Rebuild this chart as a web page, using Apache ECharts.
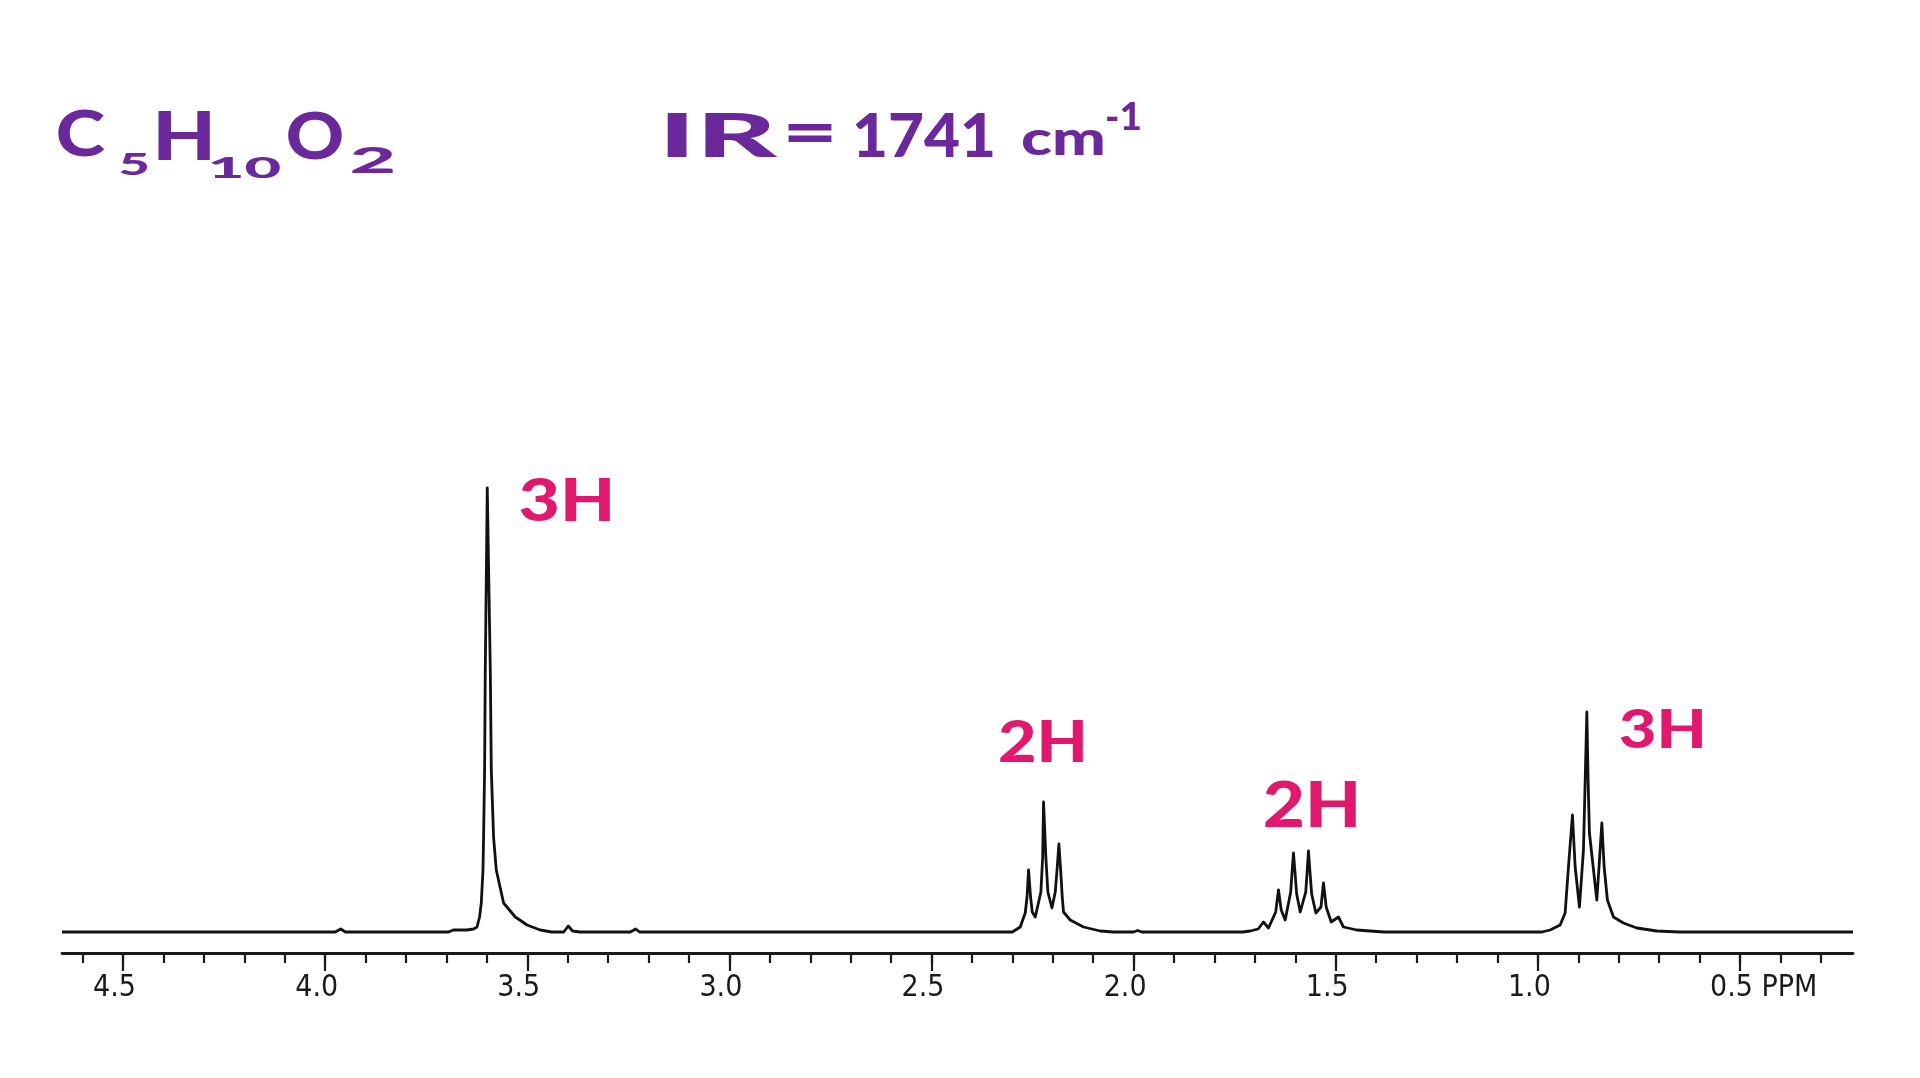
<!DOCTYPE html>
<html>
<head>
<meta charset="utf-8">
<script src="https://cdn.jsdelivr.net/npm/echarts@6/dist/echarts.min.js"></script>
<style>
html,body{margin:0;padding:0;background:#fff;}
#chart{width:1920px;height:1078px;}
</style>
</head>
<body>
<div id="chart"></div>
<script>
// ---- Data (chemical shift in ppm, relative intensity) ----
const ppm = [
  4.651, 3.975, 3.9615, 3.950, 3.695, 3.683, 3.650,
  3.6328, 3.6244, 3.6180, 3.6138, 3.6096, 3.6081, 3.6056, 3.6039, 3.5990,
  3.5915, 3.5890, 3.5834, 3.5767, 3.5586, 3.5297, 3.5222, 3.5007, 3.4679, 3.4400,
  3.410, 3.3986, 3.388, 3.370, 3.245, 3.232, 3.222,
  2.300, 2.2806, 2.2682, 2.2637, 2.2600, 2.2550, 2.2508, 2.2434, 2.2295, 2.2250, 2.2229,
  2.2172, 2.2122, 2.2021, 2.1939, 2.1890, 2.1849, 2.1803, 2.1766, 2.1735, 2.1569, 2.1240, 2.0827, 2.050,
  2.000, 1.990, 1.980,
  1.730, 1.7117, 1.6919, 1.6788, 1.6664, 1.6486, 1.6417, 1.6350, 1.6251, 1.6115, 1.6078, 1.6046,
  1.6009, 1.5967, 1.5880, 1.5743, 1.5706, 1.5675, 1.5638, 1.5596, 1.5492, 1.5366, 1.5304, 1.5237,
  1.5113, 1.4934, 1.4810, 1.4479, 1.4150, 1.380,
  0.990, 0.9697, 0.9450, 0.9326, 0.9244, 0.9145, 0.9078, 0.8972, 0.8873, 0.8831, 0.8789, 0.8757,
  0.8725, 0.8542, 0.8477, 0.8418, 0.8361, 0.8280, 0.8131, 0.7884, 0.7553, 0.7058, 0.650, 0.2205
];
const intensity = [
  0, 0, 3, 0, 0, 2, 2,
  3, 5, 15, 29, 62, 95, 162, 262, 444,
  262, 162, 95, 62, 29, 15, 13, 7, 2, 0,
  0, 6, 1, 0, 0, 3, 0,
  0, 5, 19, 35, 62, 35, 20, 15, 40, 75, 130,
  75, 40, 24, 40, 65, 88, 60, 35, 20, 12, 5, 1, 0,
  0, 1.5, 0,
  0, 1, 3, 10, 4, 20, 42, 22, 12, 40, 62, 79,
  60, 38, 20, 40, 62, 81, 60, 38, 19, 25, 49, 25,
  10, 15, 5, 2, 1, 0,
  0, 2, 7, 19, 65, 117, 65, 25, 82, 150, 220, 150,
  99, 32, 72, 109, 65, 32, 15, 9, 4, 1, 0, 0
];
const minorTicks = [0.3, 0.4, 0.5, 0.6, 0.7, 0.8, 0.9, 1.0, 1.1, 1.2, 1.3, 1.4, 1.5, 1.6, 1.7, 1.8, 1.9,
  2.0, 2.1, 2.2, 2.3, 2.4, 2.5, 2.6, 2.7, 2.8, 2.9, 3.0, 3.1, 3.2, 3.3, 3.4, 3.5, 3.6, 3.7, 3.8, 3.9,
  4.0, 4.1, 4.2, 4.3, 4.4, 4.5, 4.6];
const majorTicks = [0.5, 1.0, 1.5, 2.0, 2.5, 3.0, 3.5, 4.0, 4.5];
const unitLabel = 'PPM';
const peakLabels = ['3H', '2H', '2H', '3H'];
const formulaParts = ['C', '5', 'H', '10', 'O', '2'];
const irParts = ['IR', '=', '1741', 'cm', '-1'];

// ---- helpers for handwritten-style annotation text ----
const mctx = document.createElement('canvas').getContext('2d');
function fitText(text, left, top, w, h, color) {
  const family = 'Lato';
  const weight = 900;
  mctx.font = weight + ' 100px ' + family;
  mctx.textBaseline = 'middle';
  mctx.textAlign = 'left';
  const m = mctx.measureText(text);
  const inkW = m.actualBoundingBoxLeft + m.actualBoundingBoxRight;
  const inkH = m.actualBoundingBoxAscent + m.actualBoundingBoxDescent;
  const k = h / inkH;
  const sx = w / (inkW * k);
  return {
    type: 'text', silent: true,
    x: left + m.actualBoundingBoxLeft * k * sx,
    y: top + m.actualBoundingBoxAscent * k,
    scaleX: sx,
    style: { text: text, fontSize: 100 * k, fontFamily: family, fontWeight: weight,
             fill: color, align: 'left', verticalAlign: 'middle' }
  };
}
const purple = '#6a289b';
const pink = '#e1196e';

const graphics = [
  fitText(formulaParts[0], 58, 110, 47, 47, purple),
  fitText(formulaParts[1], 120, 153, 27, 22, purple),
  fitText(formulaParts[2], 158, 112, 52, 48, purple),
  fitText(formulaParts[3], 211, 157, 69, 21, purple),
  fitText(formulaParts[4], 288, 112, 54, 48, purple),
  fitText(formulaParts[5], 352, 146, 41, 27, purple),
  fitText(irParts[0], 667, 113, 111, 44, purple),
  fitText(irParts[1], 788, 125, 44, 18, purple),
  fitText(irParts[2], 855, 113, 138, 44, purple),
  fitText(irParts[3], 1023, 130, 80, 25, purple),
  fitText(irParts[4], 1107, 103, 33, 27, purple),
  fitText(peakLabels[0], 520, 479, 90, 43, pink),
  fitText(peakLabels[1], 1000, 721, 83, 41, pink),
  fitText(peakLabels[2], 1265, 781, 91, 46, pink),
  fitText(peakLabels[3], 1620, 709, 82, 40, pink)
];

const data = ppm.map((p, i) => [p, intensity[i]]);
const axisColor = '#1a1a1a';
const labelFont = "'DejaVu Sans Condensed', 'Liberation Sans Narrow', sans-serif";
const xMin = 0.2205, xMax = 4.651;

const chart = echarts.init(document.getElementById('chart'), null, { renderer: 'canvas' });
chart.setOption({
  backgroundColor: '#ffffff',
  animation: false,
  grid: { left: 62, right: 67, top: 452, bottom: 125 },
  xAxis: [
    {
      type: 'value', inverse: true, min: xMin, max: xMax, position: 'bottom', offset: 0,
      axisLine: { show: true, onZero: false, lineStyle: { color: axisColor, width: 2.8 } },
      axisTick: { show: true, customValues: minorTicks, length: 10, lineStyle: { color: axisColor, width: 2.2 } },
      axisLabel: { show: false },
      splitLine: { show: false }
    },
    {
      type: 'value', inverse: true, min: xMin, max: xMax, position: 'bottom', offset: 0,
      axisLine: { show: false, onZero: false },
      axisTick: { show: true, customValues: majorTicks, length: 18, lineStyle: { color: axisColor, width: 2.2 } },
      axisLabel: {
        show: true, customValues: majorTicks, margin: 20,
        fontSize: 30, fontFamily: labelFont, color: axisColor,
        padding: [0, 17, 0, 0],
        formatter: function (v) {
          const s = Number(v).toFixed(1);
          return Math.abs(v - 0.5) < 1e-6 ? '{h|' + unitLabel + ' }' + s + '{p| ' + unitLabel + '}' : s;
        },
        rich: {
          h: { fontSize: 30, fontFamily: labelFont, color: 'rgba(0,0,0,0)' },
          p: { fontSize: 30, fontFamily: labelFont, color: axisColor }
        }
      },
      splitLine: { show: false }
    }
  ],
  yAxis: { type: 'value', min: -21, max: 480, show: false },
  series: [{
    type: 'line', xAxisIndex: 0, data: data, showSymbol: false, smooth: false,
    lineStyle: { color: '#111111', width: 2.8, join: 'round' }
  }],
  graphic: graphics
});
</script>
</body>
</html>
